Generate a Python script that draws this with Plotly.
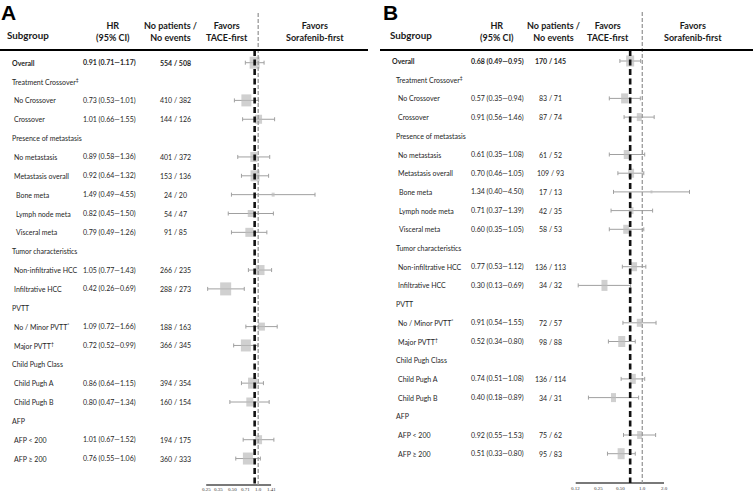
import numpy as np
import plotly.graph_objects as go

W, H = 753, 493

# ---------------- data ----------------
labels = ["Overall", "Treatment Crossover<sup>‡</sup>", "No Crossover", "Crossover",
          "Presence of metastasis", "No metastasis", "Metastasis overall", "Bone meta",
          "Lymph node meta", "Visceral meta", "Tumor characteristics", "Non-infiltrative HCC",
          "Infiltrative HCC", "PVTT", "No / Minor PVTT<sup>*</sup>", "Major PVTT<sup>†</sup>",
          "Child Pugh Class", "Child Pugh A", "Child Pugh B", "AFP", "AFP < 200", "AFP ≥ 200"]
level = [0, 1, 2, 2, 1, 2, 2, 3, 3, 3, 1, 2, 2, 1, 2, 2, 1, 2, 2, 1, 2, 2]

hr_a = [0.91, None, 0.73, 1.01, None, 0.89, 0.92, 1.49, 0.82, 0.79, None, 1.05, 0.42, None, 1.09, 0.72, None, 0.86, 0.80, None, 1.01, 0.76]
lo_a = [0.71, None, 0.53, 0.66, None, 0.58, 0.64, 0.49, 0.45, 0.49, None, 0.77, 0.26, None, 0.72, 0.52, None, 0.64, 0.47, None, 0.67, 0.55]
hi_a = [1.17, None, 1.01, 1.55, None, 1.36, 1.32, 4.55, 1.50, 1.26, None, 1.43, 0.69, None, 1.66, 0.99, None, 1.15, 1.34, None, 1.52, 1.06]
pts_a = [554, None, 410, 144, None, 401, 153, 24, 54, 91, None, 266, 288, None, 188, 366, None, 394, 160, None, 194, 360]
evt_a = [508, None, 382, 126, None, 372, 136, 20, 47, 85, None, 235, 273, None, 163, 345, None, 354, 154, None, 175, 333]

hr_b = [0.68, None, 0.57, 0.91, None, 0.61, 0.70, 1.34, 0.71, 0.60, None, 0.77, 0.30, None, 0.91, 0.52, None, 0.74, 0.40, None, 0.92, 0.51]
lo_b = [0.49, None, 0.35, 0.56, None, 0.35, 0.46, 0.40, 0.37, 0.35, None, 0.53, 0.13, None, 0.54, 0.34, None, 0.51, 0.18, None, 0.55, 0.33]
hi_b = [0.95, None, 0.94, 1.46, None, 1.08, 1.05, 4.50, 1.39, 1.05, None, 1.12, 0.69, None, 1.55, 0.80, None, 1.08, 0.89, None, 1.53, 0.80]
pts_b = [170, None, 83, 87, None, 61, 109, 17, 42, 58, None, 136, 34, None, 72, 98, None, 136, 34, None, 75, 95]
evt_b = [145, None, 71, 74, None, 52, 93, 13, 35, 53, None, 113, 32, None, 57, 88, None, 114, 31, None, 62, 83]

ticks_a = [0.25, 0.35, 0.50, 0.71, 1.0, 1.41]
ticktext_a = ["0.25", "0.35", "0.50", "0.71", "1.0", "1.41"]
ticks_b = [0.12, 0.25, 0.50, 1.0, 2.0]
ticktext_b = ["0.12", "0.25", "0.50", "1.0", "2.0"]

# ---------------- styles (box sizes in px: width, height) ----------------
box_w_a = [10, 0, 10, 7, 0, 7, 9, 3, 6, 8, 0, 9, 11, 0, 7, 10, 0, 9, 7, 0, 7, 10]
box_h_a = [12, 0, 12, 9, 0, 10, 11, 4, 7, 9, 0, 10, 13, 0, 8, 12, 0, 11, 9, 0, 9, 12]
box_w_b = [8, 0, 7, 5, 0, 6, 6, 2, 4, 6, 0, 6, 6, 0, 5, 7, 0, 6, 5, 0, 5, 7]
box_h_b = [11, 0, 10, 8, 0, 9, 9, 3, 7, 9, 0, 9, 11, 0, 8, 11, 0, 10, 9, 0, 8, 11]

BOX = "#bdbdbd"
WHISK = "#a0a0a0"
TXT = "#262626"
FONT = "Lato"

fig = go.Figure()

panels = [
    dict(xa="x", ya="y", xax="xaxis", yax="yaxis", hr=hr_a, lo=lo_a, hi=hi_a, pts=pts_a, evt=evt_a,
         bw=box_w_a, bh=box_h_a, ticks=ticks_a, tt=ticktext_a,
         x_ref=0.25, px_ref=206.2, px_per_ln=37.5, dom=(190, 368),
         row0=62.7, dy=18.85, axis_py=485, tick_py=489.5, top_black=50, top_grey=13,
         letter="A", letter_x=0, sub_x=5, lab_x=[10, 9.5, 12, 14], hr_x=109, ev_x=175,
         hdr=[113, 170, 227, 315], line=(0, 368)),
    dict(xa="x2", ya="y2", xax="xaxis2", yax="yaxis2", hr=hr_b, lo=lo_b, hi=hi_b, pts=pts_b, evt=evt_b,
         bw=box_w_b, bh=box_h_b, ticks=ticks_b, tt=ticktext_b,
         x_ref=0.12, px_ref=575.7, px_per_ln=31.4, dom=(560, 753),
         row0=61.0, dy=18.7, axis_py=483, tick_py=488, top_black=50, top_grey=12,
         letter="B", letter_x=382, sub_x=388, lab_x=[389.5, 394, 396, 397], hr_x=497.8, ev_x=550.5,
         hdr=[497, 553, 608, 693], line=(380, 753)),
]

annotations = []
shapes = []
layout_axes = {}

for p in panels:
    idx = [i for i, v in enumerate(p["hr"]) if v is not None]
    xs = [p["hr"][i] for i in idx]
    up = [p["hi"][i] - p["hr"][i] for i in idx]
    dn = [p["hr"][i] - p["lo"][i] for i in idx]
    fig.add_trace(go.Scatter(
        x=xs, y=idx, mode="markers", xaxis=p["xa"], yaxis=p["ya"],
        error_x=dict(type="data", symmetric=False, array=up, arrayminus=dn,
                     color=WHISK, thickness=1, width=2),
        marker=dict(symbol="line-ns", size=[p["bh"][i] / 1.4 for i in idx],
                    color=BOX, line=dict(width=[p["bw"][i] for i in idx], color=BOX)),
        showlegend=False, hoverinfo="skip", cliponaxis=False))

    row_of = lambda py: (py - p["row0"]) / p["dy"]
    y_axis = row_of(p["axis_py"])
    # axis line between the first and last tick
    fig.add_trace(go.Scatter(x=[p["ticks"][0], p["ticks"][-1]], y=[y_axis, y_axis], mode="lines",
                             xaxis=p["xa"], yaxis=p["ya"], line=dict(color="#4d4d4d", width=1.5),
                             showlegend=False, hoverinfo="skip"))
    # reference line at HR = 1
    fig.add_trace(go.Scatter(x=[1.0, 1.0], y=[row_of(p["top_grey"]), y_axis], mode="lines",
                             xaxis=p["xa"], yaxis=p["ya"],
                             line=dict(color="#9a9a9a", width=1.3, dash="4px,2px"),
                             showlegend=False, hoverinfo="skip"))
    # overall HR line
    fig.add_trace(go.Scatter(x=[p["hr"][0], p["hr"][0]], y=[row_of(p["top_black"]), y_axis], mode="lines",
                             xaxis=p["xa"], yaxis=p["ya"],
                             line=dict(color="#111111", width=2.6, dash="6px,3.5px"),
                             showlegend=False, hoverinfo="skip"))

    # axes
    l_px, r_px = p["dom"]
    lr = lambda px: np.log10(p["x_ref"]) + ((px - p["px_ref"]) / p["px_per_ln"]) / np.log(10)
    layout_axes[p["xax"]] = dict(type="log", domain=[l_px / W, r_px / W], range=[float(lr(l_px)), float(lr(r_px))],
                                 anchor=p["ya"], showticklabels=False,
                                 showgrid=False, zeroline=False, showline=False, ticks="")
    layout_axes[p["yax"]] = dict(domain=[0, 1], range=[row_of(H), row_of(0)],
                                 anchor=p["xa"], visible=False)

    # tick labels (placed on the log axis)
    for v, t in zip(p["ticks"], p["tt"]):
        annotations.append(dict(x=float(np.log10(v)), y=row_of(p["tick_py"]), xref=p["xa"], yref=p["ya"],
                                text=t, showarrow=False, xanchor="center", yanchor="middle",
                                font=dict(family="Liberation Serif", size=5, color="#333")))

    # row texts
    for i, lab in enumerate(labels):
        bold = i == 0
        f = dict(family=FONT, size=7, color=TXT)
        t = f"<b>{lab}</b>" if bold else lab
        annotations.append(dict(x=p["lab_x"][level[i]] / W, y=i, xref="paper", yref=p["ya"],
                                text=t, showarrow=False, xanchor="left", yanchor="middle", font=f))
        if p["hr"][i] is not None:
            hrt = f"{p['hr'][i]:.2f} ({p['lo'][i]:.2f}—{p['hi'][i]:.2f})"
            evt = f"{p['pts'][i]} / {p['evt'][i]}"
            if bold:
                hrt, evt = f"<b>{hrt}</b>", f"<b>{evt}</b>"
            annotations.append(dict(x=p["hr_x"] / W, y=i, xref="paper", yref=p["ya"], text=hrt,
                                    showarrow=False, xanchor="center", yanchor="middle", font=f))
            annotations.append(dict(x=p["ev_x"] / W, y=i, xref="paper", yref=p["ya"], text=evt,
                                    showarrow=False, xanchor="center", yanchor="middle", font=f))

    # header
    hf = dict(family=FONT, size=9, color="#1a1a1a")
    annotations.append(dict(x=p["letter_x"] / W, y=1, xref="paper", yref="paper",
                            text=f"<b>{p['letter']}</b>", showarrow=False, xanchor="left",
                            yanchor="top", borderpad=0,
                            font=dict(family="Liberation Sans", size=21, color="#000")))
    annotations.append(dict(x=p["sub_x"] / W, y=1 - 35 / H, xref="paper", yref="paper",
                            text="<b>Subgroup</b>", showarrow=False, xanchor="left", yanchor="middle",
                            font=dict(family=FONT, size=9.8, color="#1a1a1a")))
    for cx, txt in zip(p["hdr"], ["<b>HR</b><br><b>(95% CI)</b>", "<b>No patients /</b><br><b>No events</b>",
                                   "<b>Favors</b><br><b>TACE-first</b>", "<b>Favors</b><br><b>Sorafenib-first</b>"]):
        annotations.append(dict(x=cx / W, y=1 - 31 / H, xref="paper", yref="paper", text=txt,
                                showarrow=False, xanchor="center", yanchor="middle", font=hf))
    shapes.append(dict(type="line", xref="paper", yref="paper", x0=p["line"][0] / W, x1=p["line"][1] / W,
                       y0=1 - 50 / H, y1=1 - 50 / H, line=dict(color="#000", width=2)))

fig.update_layout(width=W, height=H, margin=dict(l=0, r=0, t=0, b=0),
                  paper_bgcolor="white", plot_bgcolor="rgba(0,0,0,0)",
                  annotations=annotations, shapes=shapes, **layout_axes)

fig.write_html("out.html", config={"displayModeBar": False},
               post_script="document.body.style.margin='0';document.body.style.overflow='hidden';")
